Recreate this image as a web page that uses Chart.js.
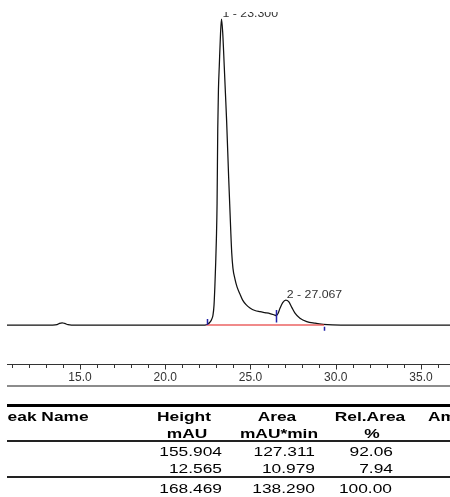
<!DOCTYPE html>
<html><head><meta charset="utf-8">
<script src="https://cdn.jsdelivr.net/npm/chart.js@4.4.0/dist/chart.umd.min.js"></script>
<style>
html,body{margin:0;padding:0;background:#fff;overflow:hidden;width:450px;height:497px;}
#wrap{position:absolute;left:0;top:0;width:450px;height:400px;}
#tbl{position:absolute;left:0;top:0;width:450px;height:497px;clip-path:inset(0 0 0 7px);pointer-events:none;}
.t{position:absolute;font-family:"Liberation Sans",Arial,sans-serif;font-size:13px;line-height:13px;color:#000;white-space:nowrap;}
.b{font-weight:bold;}
.hr{position:absolute;left:7px;width:443px;}
</style></head>
<body>
<div id="wrap"><canvas id="c" width="450" height="400"></canvas></div>
<div id="tbl"></div>
<script>
// ---- data ----
const times  = [10.72, 11.5, 12.5, 13.4, 13.65, 13.8, 13.95, 14.1, 14.3, 14.5, 15.5, 17.0, 18.5, 20.0, 21.5, 22.2,
  22.4, 22.5, 22.62, 22.72, 22.8, 22.86, 22.91, 22.96, 23.0, 23.04, 23.08, 23.12, 23.17, 23.24, 23.3,
  23.37, 23.46, 23.53, 23.6, 23.72, 23.84, 23.9, 23.97, 24.09, 24.21, 24.38, 24.54, 24.74, 24.97, 25.26,
  25.56, 25.85, 26.14, 26.38, 26.52, 26.62, 26.73, 26.89, 27.07, 27.24, 27.42, 27.61, 27.9, 28.3, 28.78,
  29.27, 29.8, 31.0, 33.0, 35.0, 36.7];
const signal = [0, 0, 0, 0, 0.2, 0.8, 1.1, 0.8, 0.2, 0, 0, 0, 0, 0, 0, 0,
  0.1, 0.5, 1.4, 2.8, 5.0, 10.0, 19.5, 32, 44, 62, 100, 120, 132, 148, 155.9,
  149, 132, 118, 104, 75, 48.4, 36.7, 29, 23.4, 19.4, 15.8, 12.7, 10.4, 8.7, 7.4,
  6.8, 6.3, 5.8, 5.2, 4.8, 6.0, 8.5, 11.4, 12.7, 11.9, 9.0, 6.0, 3.4, 1.7, 0.9,
  0.35, 0.1, 0, 0, 0, 0];
const baseTimes  = [22.42, 29.31];
const baseValues = [0, 0];
const delimTimes  = [22.42, 26.52, 29.31];
const delimValues = [0, 4.8, 0];
const peakTimes  = [23.300, 27.067];
const peakApex   = [155.9, 12.7];
const peakLabels = ['1 - 23.300', '2 - 27.067'];
const tickValues = [11,12,13,14,15,16,17,18,19,20,21,22,23,24,25,26,27,28,29,30,31,32,33,34,35,36];
const majorTicks = [15,20,25,30,35];
// table
const headRow1 = ['Peak Name', 'Height', 'Area', 'Rel.Area', 'Amount'];
const headRow2 = ['', 'mAU', 'mAU*min', '%', ''];
const heights  = ['155.904', '12.565'];
const areas    = ['127.311', '10.979'];
const relAreas = ['92.06', '7.94'];
const totals   = ['168.469', '138.290', '100.00'];

// ---- chart ----
const xMin = 10.72, xMax = 36.70, yMin = -19.87, yMax = 159.47;
const delimOffsets = [[-6, 0], [-5.6, 7], [1.7, 5.7]];

const overlay = {
  id: 'overlay',
  afterDraw(chart) {
    const {ctx, chartArea: a, scales: {x, y}} = chart;
    ctx.save();
    const ay = a.bottom + 0.5;
    ctx.strokeStyle = '#333'; ctx.lineWidth = 1;
    ctx.beginPath();
    ctx.moveTo(a.left, ay); ctx.lineTo(a.right, ay);
    tickValues.forEach(v => {
      const px = Math.round(x.getPixelForValue(v)) + 0.5;
      const len = majorTicks.includes(v) ? 5 : 3.5;
      ctx.moveTo(px, ay); ctx.lineTo(px, ay + len);
    });
    ctx.stroke();
    // delimiters
    ctx.strokeStyle = '#2222a8'; ctx.lineWidth = 1.5;
    ctx.beginPath();
    delimTimes.forEach((t, i) => {
      const px = Math.round(x.getPixelForValue(t)) + 0.5;
      const py = y.getPixelForValue(delimValues[i]);
      ctx.moveTo(px, py + delimOffsets[i][0]); ctx.lineTo(px, py + delimOffsets[i][1]);
    });
    ctx.stroke();
    // peak labels
    ctx.beginPath(); ctx.rect(a.left, a.top, a.right - a.left, a.bottom - a.top); ctx.clip();
    ctx.font = '11px "Liberation Sans", Arial, sans-serif';
    ctx.fillStyle = '#333'; ctx.textAlign = 'left'; ctx.textBaseline = 'alphabetic';
    peakTimes.forEach((t, i) => {
      const px = x.getPixelForValue(t) + 1;
      const py = y.getPixelForValue(peakApex[i]) - 2.5;
      ctx.save();
      ctx.translate(px, py); ctx.scale(1.12, 1);
      ctx.fillText(peakLabels[i], 0, 0);
      ctx.restore();
    });
    ctx.restore();
  }
};

new Chart(document.getElementById('c'), {
  type: 'line',
  data: {
    datasets: [
      {data: baseTimes.map((t, i) => ({x: t, y: baseValues[i]})), borderColor: 'rgba(232,70,70,0.85)',
       borderWidth: 1.5, pointRadius: 0, order: 0},
      {data: times.map((t, i) => ({x: t, y: signal[i]})), borderColor: '#111', borderWidth: 1.25,
       pointRadius: 0, cubicInterpolationMode: 'monotone', order: 1}
    ]
  },
  options: {
    animation: false, responsive: false, events: [],
    layout: {padding: {left: 7, top: 12, right: 0, bottom: 0}},
    plugins: {legend: {display: false}, tooltip: {enabled: false}},
    scales: {
      x: {
        type: 'linear', min: xMin, max: xMax,
        afterBuildTicks: s => { s.ticks = tickValues.map(v => ({value: v})); },
        afterFit: s => { s.height = 36; },
        grid: {display: false, drawTicks: false},
        border: {display: false},
        ticks: {autoSkip: false, maxRotation: 0, padding: 6, color: '#333',
          font: {family: '"Liberation Sans", Arial, sans-serif', size: 12},
          callback: v => majorTicks.includes(v) ? v.toFixed(1) : ''}
      },
      y: {display: false, min: yMin, max: yMax}
    }
  },
  plugins: [overlay]
});

// ---- table ----
const tbl = document.getElementById('tbl');
const SX = 1.335;
function txt(s, mode, pos, top, bold) {
  const d = document.createElement('div');
  d.className = 't' + (bold ? ' b' : '');
  d.textContent = s;
  d.style.top = top + 'px';
  if (mode === 'l') { d.style.left = pos + 'px'; d.style.transformOrigin = 'left'; }
  else if (mode === 'r') { d.style.left = '0px'; d.style.width = pos + 'px'; d.style.textAlign = 'right'; d.style.transformOrigin = 'right'; }
  else { d.style.left = (pos - 100) + 'px'; d.style.width = '200px'; d.style.textAlign = 'center'; d.style.transformOrigin = 'center'; }
  d.style.transform = 'scaleX(' + SX + ')';
  tbl.appendChild(d);
}
function hr(top, h, color) {
  const d = document.createElement('div');
  d.className = 'hr'; d.style.top = top + 'px'; d.style.height = h + 'px'; d.style.background = color;
  document.body.appendChild(d);
}
hr(385, 2, '#8c8c8c');
hr(403.5, 3.5, '#000');
hr(440, 1.8, '#222');
hr(476.3, 1.8, '#222');
// headers
txt(headRow1[0], 'l', -4.3, 410, true);
txt(headRow1[1], 'c', 184, 410, true);
txt(headRow1[2], 'c', 276.5, 410, true);
txt(headRow1[3], 'c', 370, 410, true);
txt(headRow1[4], 'l', 428.3, 410, true);
txt(headRow2[1], 'c', 186.5, 426.5, true);
txt(headRow2[2], 'c', 279, 426.5, true);
txt(headRow2[3], 'c', 371.5, 426.5, true);
const rowTops = [445, 461.7];
heights.forEach((v, i) => {
  txt(v, 'r', 222, rowTops[i], false);
  txt(areas[i], 'r', 315, rowTops[i], false);
  txt(relAreas[i], 'r', 393, rowTops[i], false);
});
txt(totals[0], 'r', 222, 481.7, false);
txt(totals[1], 'r', 315, 481.7, false);
txt(totals[2], 'r', 392, 481.7, false);
</script>
</body></html>
